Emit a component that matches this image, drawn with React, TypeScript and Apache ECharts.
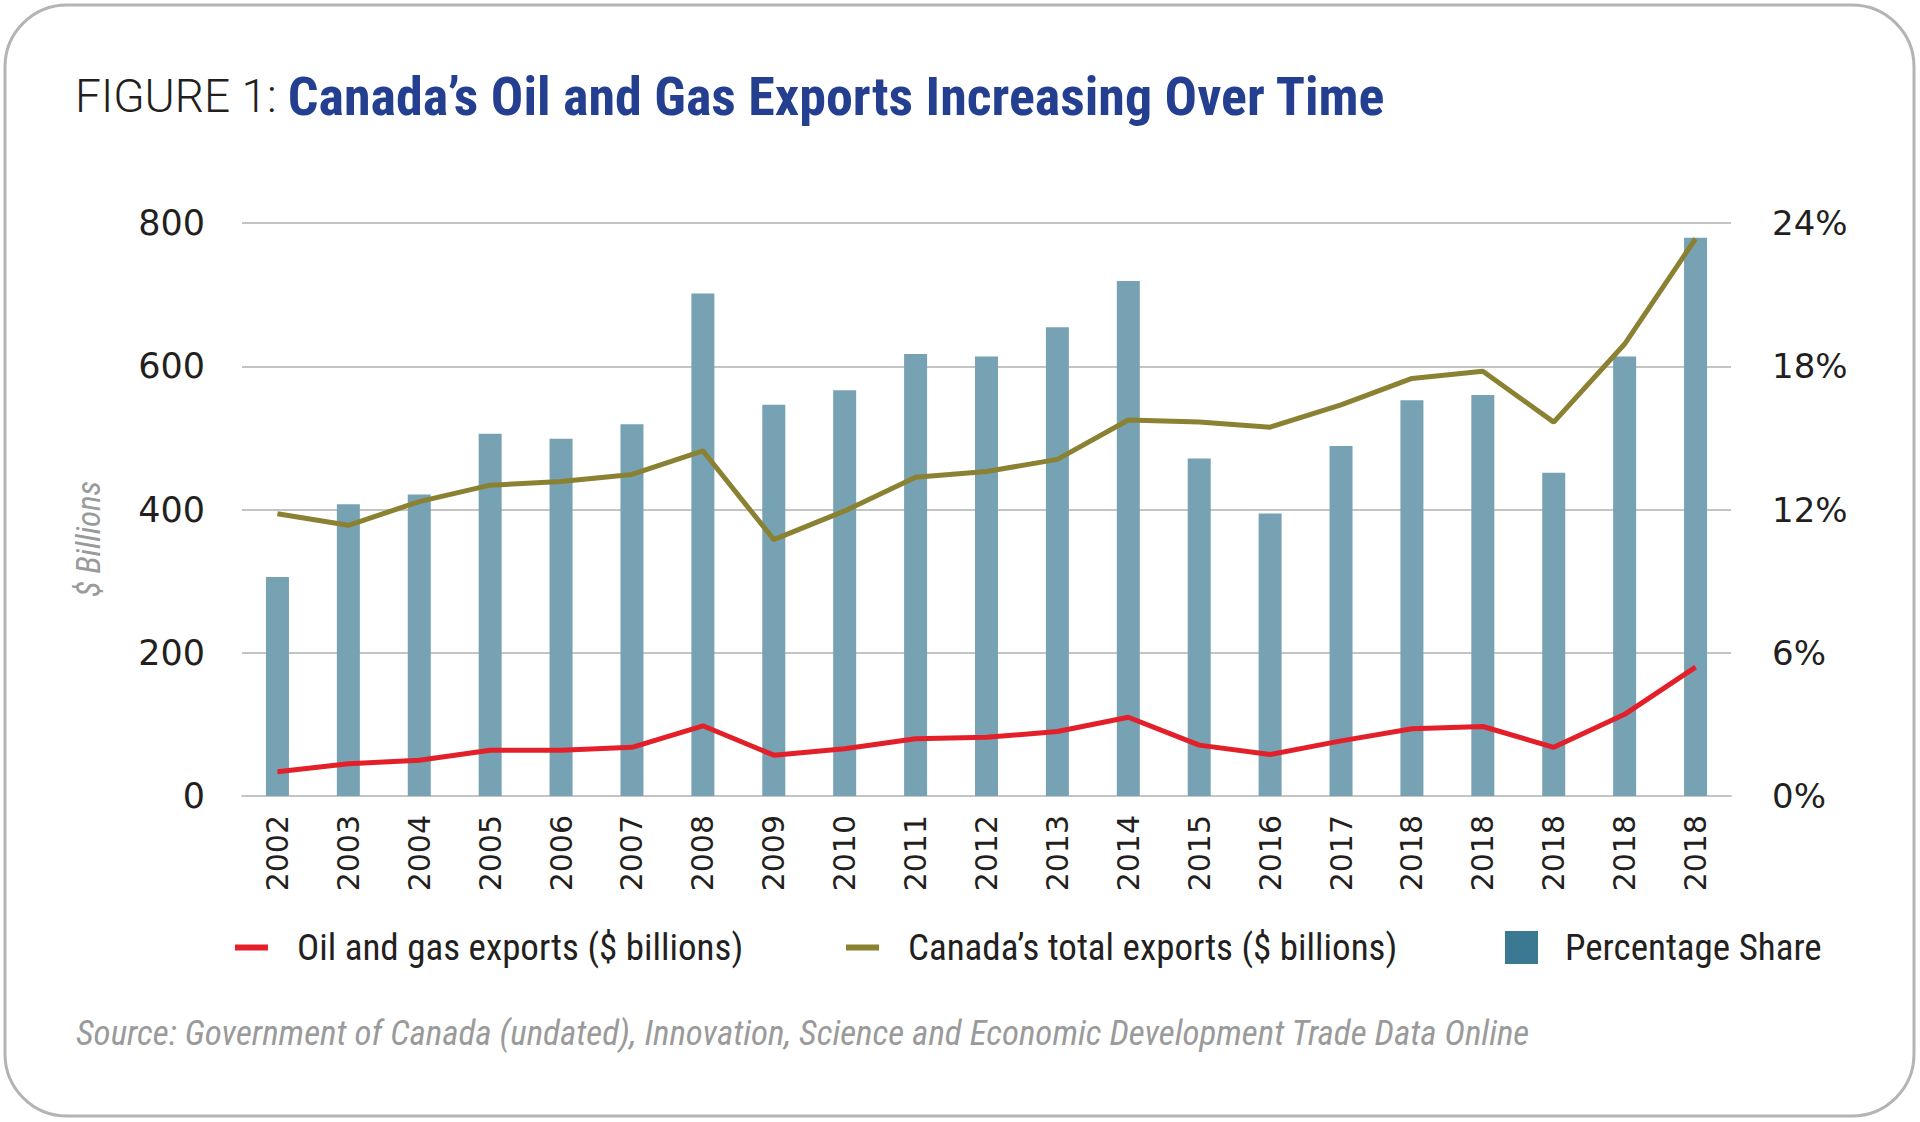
import React, { useEffect, useRef } from 'react';
import * as echarts from 'echarts';

// year labels as printed on the figure (the last ones all read 2018)
const years = [
  '2002', '2003', '2004', '2005', '2006', '2007', '2008', '2009', '2010', '2011',
  '2012', '2013', '2014', '2015', '2016', '2017', '2018', '2018', '2018', '2018', '2018',
];

// $ billions
const oilGasExports = [34, 45, 50, 64, 64, 68, 98, 57, 66, 80, 82, 90, 110, 71, 58, 77, 94, 97, 68, 114, 180];
const totalExports = [394, 378, 411, 434, 439, 449, 482, 358, 398, 445, 453, 470, 525, 522, 515, 546, 583, 593, 522, 631, 778];

// percent
const percentageShare = [
  9.17, 12.22, 12.63, 15.17, 14.96, 15.57, 21.05, 16.39, 17.0, 18.51,
  18.41, 19.63, 21.57, 14.14, 11.83, 14.66, 16.58, 16.8, 13.54, 18.41, 23.38,
];

const leftTicks = { min: 0, max: 800, interval: 200 };
const rightTicks = { min: 0, max: 24, interval: 6 };

const NARROW = "'Liberation Sans Narrow', 'Roboto Condensed', 'Liberation Sans', sans-serif";
const WIDE = "'DejaVu Sans', 'Liberation Sans', sans-serif";

const App: React.FC = () => {
  const chartRef = useRef<HTMLDivElement>(null);

  useEffect(() => {
    if (!chartRef.current) return;
    const chart = echarts.init(chartRef.current, undefined, { renderer: 'svg' });

    const legendText = {
      fontFamily: NARROW,
      fontSize: 37,
      color: '#231f20',
      padding: [0, 0, 0, 24],
    };

    const option: any = {
      animation: false,
      backgroundColor: '#ffffff',
      title: {
        left: 70,
        top: 64,
        text: '{a|FIGURE 1: }{b|Canada\u2019s Oil and Gas Exports Increasing Over Time}',
        textStyle: {
          rich: {
            a: { fontFamily: "'Roboto', 'Liberation Sans', sans-serif", fontWeight: 300, fontSize: 46, color: '#231f20' },
            b: { fontFamily: NARROW, fontWeight: 'bold', fontSize: 54, color: '#243f8f' },
          },
        },
      },
      graphic: [
        {
          type: 'rect',
          z: -10,
          shape: { x: 5, y: 5, width: 1909, height: 1111, r: 62 },
          style: { fill: 'transparent', stroke: '#b4b4b4', lineWidth: 3 },
        },
        {
          type: 'text',
          x: 88,
          y: 539,
          rotation: Math.PI / 2,
          style: {
            text: '$ Billions',
            fontFamily: NARROW,
            fontStyle: 'italic',
            fontSize: 33,
            fill: '#9a9a9a',
            align: 'center',
            verticalAlign: 'middle',
          },
        },
        {
          type: 'text',
          left: 76,
          top: 1016,
          style: {
            text: 'Source: Government of Canada (undated), Innovation, Science and Economic Development Trade Data Online',
            fontFamily: NARROW,
            fontStyle: 'italic',
            fontSize: 35,
            fill: '#9a9a9a',
          },
        },
      ],
      legend: [
        {
          left: 235,
          top: 929,
          padding: 0,
          selectedMode: false,
          icon: 'rect',
          itemWidth: 33,
          itemHeight: 6,
          textStyle: legendText,
          data: ['Oil and gas exports ($ billions)'],
        },
        {
          left: 846,
          top: 929,
          padding: 0,
          selectedMode: false,
          icon: 'rect',
          itemWidth: 33,
          itemHeight: 6,
          textStyle: legendText,
          data: ['Canada\u2019s total exports ($ billions)'],
        },
        {
          left: 1505,
          top: 929,
          padding: 0,
          selectedMode: false,
          icon: 'rect',
          itemWidth: 33,
          itemHeight: 33,
          textStyle: { ...legendText, padding: [0, 0, 0, 22] },
          data: [{ name: 'Percentage Share', itemStyle: { color: '#3b7891' } }],
        },
      ],
      grid: { left: 242, right: 189, top: 223, bottom: 326 },
      xAxis: {
        type: 'category',
        data: years,
        axisTick: { show: false },
        axisLine: { show: true, lineStyle: { color: '#c4c4c4', width: 2 } },
        axisLabel: {
          interval: 0,
          rotate: 90,
          margin: 19,
          fontFamily: WIDE,
          fontSize: 30,
          color: '#231f20',
        },
      },
      yAxis: [
        {
          type: 'value',
          ...leftTicks,
          axisLine: { show: false },
          axisTick: { show: false },
          splitLine: { lineStyle: { color: '#c4c4c4', width: 2 } },
          axisLabel: { margin: 37, fontFamily: WIDE, fontSize: 35, color: '#231f20' },
        },
        {
          type: 'value',
          ...rightTicks,
          position: 'right',
          axisLine: { show: false },
          axisTick: { show: false },
          splitLine: { show: false },
          axisLabel: {
            margin: 41,
            formatter: '{value}%',
            fontFamily: WIDE,
            fontSize: 34,
            color: '#231f20',
          },
        },
      ],
      series: [
        {
          name: 'Percentage Share',
          type: 'bar',
          yAxisIndex: 1,
          barWidth: 23,
          itemStyle: { color: '#76a2b3' },
          data: percentageShare,
        },
        {
          name: 'Oil and gas exports ($ billions)',
          type: 'line',
          yAxisIndex: 0,
          symbol: 'none',
          lineStyle: { color: '#e3202a', width: 5 },
          itemStyle: { color: '#e3202a' },
          z: 4,
          data: oilGasExports,
        },
        {
          name: 'Canada\u2019s total exports ($ billions)',
          type: 'line',
          yAxisIndex: 0,
          symbol: 'none',
          lineStyle: { color: '#8a8232', width: 5 },
          itemStyle: { color: '#8a8232' },
          z: 4,
          data: totalExports,
        },
      ],
    };

    chart.setOption(option);

    return () => {
      chart.dispose();
    };
  }, []);

  return (
    <div
      ref={chartRef}
      style={{ position: 'absolute', left: 0, top: 0, width: '1920px', height: '1122px' }}
    />
  );
};

export default App;
